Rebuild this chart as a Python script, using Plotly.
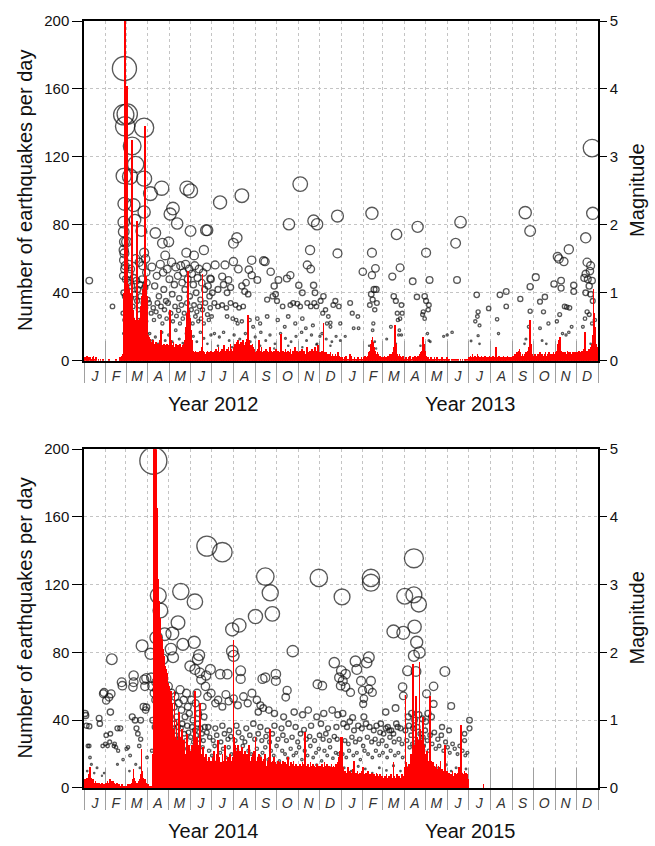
import datetime as dt
import plotly.graph_objects as go

# ---------------- daily earthquake counts (one value per day) ----------------
daily_2012 = [
    1,2,0,1,3,2,1,0,2,1,0,1,2,3,1,0,1,2,0,0,1,0,0,1,0,0,0,1,0,0,0,            # Jan
    0,0,0,0,1,0,0,0,0,0,0,0,0,0,1,0,0,0,0,1,2,1,3,2,4,40,45,230,55,            # Feb
    50,162,45,44,42,40,36,34,130,30,28,25,24,22,26,82,24,22,20,25,
    28,32,38,42,45,40,138,46,50,38,28,                                          # Mar
    15,14,12,13,10,11,9,12,10,8,9,11,7,8,10,9,8,12,18,9,7,8,10,6,9,8,7,10,9,8, # Apr
    9,30,12,10,8,9,11,7,8,10,6,9,8,7,9,10,8,6,7,9,8,10,12,15,20,28,53,35,30,25,22,  # May
    18,12,8,6,5,4,6,5,4,3,5,4,6,5,4,8,51,6,4,5,3,4,5,6,4,5,3,4,6,5,             # Jun
    4,5,3,6,4,7,5,3,6,8,4,5,6,3,7,5,4,9,6,5,4,7,6,8,5,6,10,7,5,6,8,             # Jul
    8,10,7,9,11,8,12,9,10,8,11,9,10,12,8,9,11,10,13,9,27,12,10,8,9,7,10,8,6,7,5,  # Aug
    5,6,4,7,12,5,6,4,8,5,3,6,5,4,7,5,6,4,3,5,8,4,6,5,3,4,6,5,4,7,               # Sep
    4,6,5,3,5,6,16,5,4,6,3,5,7,4,5,3,6,4,5,7,4,3,5,6,4,5,8,4,6,5,4,             # Oct
    5,4,6,3,5,7,4,6,5,3,4,6,8,5,4,3,6,5,4,7,5,4,6,8,5,4,6,9,7,5,                # Nov
    4,5,3,6,4,22,5,4,3,5,4,3,2,4,3,5,2,3,4,2,3,2,4,3,2,3,5,3,2,1,2,             # Dec
]
daily_2013 = [
    1,2,0,1,2,1,3,2,1,0,1,2,4,3,2,1,0,1,2,1,0,1,1,2,0,1,0,1,2,1,0,              # Jan
    2,1,3,2,1,2,3,4,5,6,8,10,12,14,11,8,6,5,4,3,5,4,3,2,3,2,1,2,                # Feb
    2,1,3,2,1,2,1,3,2,1,4,3,2,4,5,8,12,21,10,6,4,3,2,4,3,2,1,2,3,2,1,           # Mar
    1,2,1,0,1,2,1,3,2,1,0,2,1,2,3,2,1,2,1,3,2,4,3,5,6,8,14,10,6,4,              # Apr
    3,2,1,2,1,0,1,2,1,0,1,1,2,1,0,1,2,1,0,1,1,0,1,2,1,0,1,1,0,1,2,              # May
    1,0,1,0,0,1,0,1,0,0,1,0,0,1,0,1,0,0,1,0,0,1,0,0,1,0,1,0,0,1,                # Jun
    2,1,3,2,1,4,2,1,2,3,1,2,4,3,2,1,2,1,3,2,1,2,1,3,2,1,2,1,2,3,2,              # Jul
    1,2,1,3,2,1,2,8,2,1,2,1,3,2,1,2,1,2,3,1,2,1,2,1,3,2,1,2,1,2,1,              # Aug
    2,3,2,4,3,2,5,3,4,6,7,5,3,2,4,3,2,3,4,5,3,4,6,8,12,24,10,6,4,3,             # Sep
    3,2,4,3,2,3,4,2,3,5,3,2,4,3,2,3,4,5,3,2,4,3,5,4,3,2,4,3,5,4,3,              # Oct
    4,5,6,8,10,12,14,9,6,5,4,5,3,4,5,3,4,6,5,4,3,5,4,3,4,5,3,4,5,4,             # Nov
    4,5,3,6,4,5,3,4,6,5,4,7,17,6,5,4,6,5,7,4,6,8,10,15,42,28,20,12,10,8,6,      # Dec
]
daily_2014 = [
    3,5,4,2,6,4,5,8,12,6,4,3,5,4,2,3,4,2,3,1,2,3,2,1,2,3,1,2,1,2,3,             # Jan
    3,2,4,3,2,5,3,4,2,3,4,2,3,1,2,3,2,1,2,1,0,1,2,1,0,1,0,1,                    # Feb
    1,0,1,2,1,0,2,1,3,2,5,11,6,4,3,2,3,2,4,3,5,8,23,10,6,4,3,5,4,3,2,           # Mar
    2,1,1,0,1,0,1,20,240,250,235,220,210,165,140,123,110,100,95,90,
    88,85,82,78,75,72,70,68,65,62,                                              # Apr
    60,58,55,57,50,30,28,35,57,30,22,40,28,26,45,24,30,22,20,35,
    25,22,28,20,18,26,32,22,20,25,18,                                           # May
    22,18,25,20,30,35,57,28,22,30,25,20,24,50,22,18,20,15,24,12,
    18,14,20,16,12,15,18,14,12,16,                                              # Jun
    14,18,12,22,15,10,16,20,12,28,14,18,10,15,12,20,16,11,14,25,
    12,16,10,18,13,15,20,12,16,14,18,                                           # Jul
    87,30,25,22,20,18,25,15,20,22,18,16,24,20,15,18,22,14,16,20,
    18,15,25,12,16,14,18,20,15,22,16,                                           # Aug
    30,16,14,18,12,20,15,13,18,16,14,12,17,15,20,13,11,16,14,18,
    22,35,15,12,16,14,18,13,15,12,                                              # Sep
    14,12,16,10,13,15,11,14,12,16,10,13,15,12,11,14,18,12,10,13,
    15,11,14,12,16,13,10,12,14,11,13,                                           # Oct
    12,10,14,11,13,12,15,10,14,33,12,11,13,10,14,12,11,15,13,10,
    12,14,11,13,12,10,14,11,12,13,                                              # Nov
    12,10,13,11,14,12,10,15,13,11,12,14,10,13,11,12,10,14,12,11,
    13,10,12,14,11,13,15,12,18,22,30,                                           # Dec
]
daily_2015_jan_jun = [
    8,30,12,9,7,10,8,6,9,12,8,7,10,6,8,9,7,11,16,8,6,9,7,10,8,6,9,7,8,10,6,     # Jan
    12,7,8,6,9,5,8,10,7,6,8,5,7,9,6,8,5,7,6,9,8,5,7,6,8,5,6,7,                  # Feb
    5,6,4,7,5,8,6,4,5,7,6,5,8,6,4,15,7,5,6,4,8,5,6,7,5,4,6,8,5,7,6,             # Mar
    12,55,15,10,12,8,14,10,16,20,18,22,73,25,20,18,54,30,25,22,
    28,74,35,28,24,20,42,25,22,20,                                              # Apr
    20,18,22,16,15,18,54,14,16,12,15,11,13,10,12,14,9,11,13,10,
    12,16,9,11,8,10,9,25,12,8,10,                                               # May
    8,6,9,7,5,8,6,10,7,5,9,6,8,7,5,9,12,10,8,37,9,7,6,8,10,7,9,6,8,5,           # Jun
]
late_2015_doy = [202]       # day of year (0-based) of the single later record
late_2015_count = [2]

# ---------------- individual earthquakes: (day of year, magnitude) ----------------
quakes_2012 = [
    (7,1.18),(40,0.80),
    (57,4.30),(56,3.62),(61,3.63),(58,3.45),(68,3.16),(73,2.89),(56,2.72),(65,2.71),(85,3.43),
    (85,2.68),(94,2.46),(57,2.31),(70,2.29),(85,2.19),(56,2.04),(56,1.90),(72,2.07),(81,1.91),
    (57,1.58),(85,1.59),(73,1.50),(87,1.50),(60,1.75),(57,1.75),(56,1.63),(56,1.48),(57,1.35),
    (58,1.40),(63,1.42),(66,1.35),(78,1.45),(83,1.40),(88,1.30),(55,1.25),(59,1.20),(62,1.15),
    (64,1.28),(67,1.10),(70,1.22),(74,1.18),(76,1.05),(79,1.12),(82,1.20),(86,1.08),(89,1.15),
    (56,1.00),(58,0.95),(61,0.90),(63,0.85),(66,0.92),(69,0.80),(71,0.98),(75,0.88),(77,0.75),
    (80,0.95),(84,0.85),(87,0.78),(90,0.90),(55,0.70),(57,0.60),(59,0.55),(62,0.65),(64,0.50),
    (68,0.62),(72,0.55),(75,0.48),(78,0.60),(81,0.52),(84,0.65),(88,0.58),(56,0.40),(60,0.35),
    (65,0.42),(70,0.38),(74,0.32),(79,0.45),(83,0.35),(89,0.40),(58,0.25),(63,0.22),(67,0.28),
    (72,0.20),(77,0.25),(82,0.22),(86,0.28),
    (110,2.54),(101,1.88),(111,1.73),(120,1.75),(126,2.24),(122,2.16),(132,2.02),(146,2.54),
    (151,2.50),(151,1.91),(145,1.59),(173,1.92),(170,1.63),(115,1.55),(156,1.55),
    (96,1.38),(100,1.10),(103,1.25),(106,0.95),(108,1.42),(112,1.30),(113,1.05),(116,0.88),
    (118,1.35),(121,1.20),(124,1.45),(125,0.98),(128,1.12),(130,1.38),(133,1.25),(135,0.92),
    (137,1.40),(139,1.15),(141,1.30),(143,1.05),(144,1.42),(147,1.20),(149,1.35),(150,0.95),
    (153,1.28),(155,1.12),(157,1.40),(159,1.00),(161,1.22),(163,1.35),(165,0.90),(167,1.15),
    (169,1.30),(171,1.05),(174,1.38),(176,1.10),(178,0.95),(180,1.20),
    (92,0.85),(95,0.70),(98,0.78),(99,0.60),(102,0.72),(104,0.85),(107,0.65),(109,0.80),
    (111,0.55),(114,0.75),(117,0.62),(119,0.85),(123,0.70),(126,0.58),(129,0.80),(131,0.66),
    (134,0.74),(136,0.55),(138,0.82),(140,0.62),(142,0.70),(146,0.85),(148,0.60),(152,0.75),
    (154,0.55),(156,0.82),(158,0.65),(160,0.72),(162,0.58),(164,0.80),(166,0.62),(168,0.75),
    (170,0.55),(172,0.85),(175,0.68),(177,0.60),(179,0.78),(181,0.65),
    (93,0.40),(97,0.30),(101,0.35),(105,0.25),(110,0.42),(115,0.30),(120,0.38),(125,0.28),
    (130,0.45),(135,0.32),(140,0.26),(145,0.40),(150,0.30),(155,0.36),(160,0.28),(165,0.42),
    (170,0.33),(175,0.25),(180,0.38),
    (193,2.33),(224,2.43),(307,2.60),(291,2.01),(326,2.06),(331,2.01),(360,2.13),(175,1.92),
    (217,1.81),(212,1.73),(321,1.63),(317,1.41),(322,1.35),(360,1.58),(186,1.41),(200,1.41),
    (212,1.46),(238,1.48),(255,1.47),(257,1.46),(219,1.35),(234,1.34),(265,1.31),(179,1.21),
    (196,1.24),(205,1.19),(238,1.26),(246,1.19),(276,1.19),(288,1.21),(293,1.26),(305,1.11),
    (326,1.11),(328,1.00),(310,1.00),
    (224,1.10),(228,1.02),(230,1.15),(233,0.98),(190,1.05),(198,1.12),(203,1.00),(208,1.08),
    (182,1.00),(270,1.10),(272,0.98),(260,0.90),(268,0.95),(274,0.88),(185,0.85),(190,0.80),
    (196,0.82),(202,0.78),(208,0.85),(215,0.82),(220,0.78),(226,0.80),(282,0.80),(293,0.82),
    (297,0.85),(303,0.84),(307,0.80),(317,0.85),(322,0.80),(327,0.85),(330,0.80),(336,0.88),
    (340,0.95),
    (203,0.65),(211,0.62),(216,0.60),(218,0.55),(224,0.58),(235,0.60),(246,0.62),(260,0.65),
    (275,0.60),(290,0.65),(310,0.62),(240,0.50),(250,0.55),(285,0.50),(300,0.55),(315,0.48),
    (325,0.52),(345,0.55),(350,0.50),
    (185,0.40),(192,0.35),(198,0.42),(206,0.30),(213,0.38),(221,0.32),(229,0.40),(236,0.28),
    (243,0.35),(251,0.42),(258,0.30),(264,0.38),(271,0.25),(279,0.40),(286,0.33),(294,0.28),
    (301,0.36),(309,0.42),(316,0.30),(323,0.38),(331,0.25),(338,0.40),(344,0.32),(352,0.28),
    (358,0.36),(364,0.30),(190,0.22),(210,0.20),(230,0.25),(250,0.22),(270,0.18),(290,0.22),
    (310,0.20),(330,0.24),(350,0.22),
    (354,0.82),(357,0.88),(362,0.80),(364,0.55),(339,0.70),(343,0.75),(347,0.65),(350,0.56),
    (335,0.36),
]
quakes_2013 = [
    (12,0.85),(15,0.70),(17,0.48),(23,0.65),(24,0.48),(5,0.36),
    (43,2.17),(43,1.59),(48,1.36),(43,1.26),(30,1.31),(46,1.05),(49,1.05),(42,0.98),(44,0.90),
    (40,0.82),(47,0.75),(50,0.85),(45,0.55),(44,0.45),(47,0.28),(39,0.22),(49,0.18),
    (78,1.86),(83,1.37),(72,1.24),(74,0.95),(77,0.88),(79,0.70),(83,0.62),(85,0.82),(86,0.70),
    (80,0.60),(82,0.45),(85,0.38),(77,0.25),(64,0.32),(70,0.50),(81,0.38),
    (108,1.97),(120,1.59),(101,1.17),(125,1.19),(107,0.94),(118,0.95),(120,0.88),(124,0.82),
    (123,0.75),(116,0.72),(118,0.62),(115,0.68),(122,0.40),(124,0.30),(112,0.22),(126,0.28),
    (162,1.73),(169,2.04),(164,1.19),(145,0.36),(150,0.38),(157,0.42),
    (192,0.97),(190,0.58),(194,0.72),(196,0.52),(193,0.65),(194,0.37),(196,0.25),(184,0.29),
    (209,0.77),(225,0.97),(234,1.02),(234,0.80),(221,0.61),(223,0.40),
    (254,0.91),(261,2.18),(268,1.91),(268,1.09),(276,1.23),(268,0.73),(266,0.50),(262,0.32),
    (260,0.25),
    (282,0.87),(289,0.94),(287,0.72),(294,0.55),(282,0.48),(285,0.30),(291,0.25),
    (302,1.13),(307,1.53),(309,1.50),(316,1.46),(323,1.64),(312,1.18),(312,1.07),(330,1.11),
    (330,1.02),(317,0.80),(320,0.79),(324,0.78),(310,0.68),(306,0.58),(314,0.40),(319,0.38),
    (323,0.42),(327,0.50),
    (347,1.81),(356,3.13),(357,2.17),(349,1.45),(354,1.40),(353,1.32),(347,1.28),(350,1.20),
    (356,1.18),(345,1.22),(352,1.10),(347,1.00),(354,0.98),(357,0.88),(349,0.72),(352,0.68),
    (356,0.55),(360,0.60),(346,0.62),(359,0.35),(354,0.25),(343,0.50),
]
quakes_2014 = [
    (1,1.10),(3,0.92),(5,0.62),(8,0.45),(10,0.35),(4,0.25),(14,0.22),(18,0.30),(22,0.95),
    (27,1.39),(31,1.29),(35,1.34),(37,0.80),(39,1.90),(37,1.12),(33,0.62),(36,0.68),(30,0.65),
    (28,0.22),(25,0.18),(42,0.62),(45,0.60),(48,0.55),(51,0.88),(53,1.56),(55,0.42),(60,0.58),
    (62,0.60),(65,0.48),(70,1.66),(70,1.56),(68,1.05),(72,1.00),(74,0.88),(76,0.80),(78,0.62),
    (80,0.72),(82,2.10),(85,1.60),(86,1.50),(88,1.62),(84,1.20),(87,1.15),(89,0.45),(64,0.25),
    (73,0.35),(79,0.30),(47,0.35),(54,1.51),(69,1.49),(28,1.41),(38,1.39),(88,1.19),(80,1.00),
    (21,1.03),(2,1.07),(7,0.91),(31,0.78),(47,0.88),(7,0.62),(26,0.62),(43,0.65),
    (98,4.83),
    (174,3.57),(196,3.48),(257,3.12),(264,2.88),(267,2.57),(243,2.53),(220,2.40),(210,2.34),
    (137,2.90),(157,2.75),(105,2.84),(108,2.62),(133,2.44),(125,2.28),(333,3.10),(296,2.02),
    (140,2.12),(156,2.15),(161,1.90),(163,1.96),(123,2.05),(126,1.93),(102,2.22),(114,2.27),
    (94,1.98),(111,1.90),(210,2.02),(212,1.95),
    (150,1.80),(157,1.75),(164,1.70),(173,1.66),(95,1.63),(102,1.56),
    (179,1.75),(193,1.68),(203,1.68),(222,1.73),(222,1.61),(253,1.61),(257,1.63),(272,1.68),
    (272,1.58),(288,1.44),(286,1.34),(331,1.53),(338,1.51),(355,1.85),(362,1.63),(364,1.51),
    (175,1.35),(180,1.40),(186,1.25),(190,1.30),(196,1.20),(201,1.38),(205,1.28),(212,1.32),
    (218,1.22),(226,1.35),(232,1.25),(238,1.40),(245,1.30),(250,1.22),
    (247,1.12),(254,1.18),(262,1.15),(270,1.10),(283,1.05),(298,1.12),(310,1.08),(318,1.15),
    (330,1.05),(340,1.10),(352,1.15),(360,1.08),
    (176,0.90),(186,0.88),(196,0.92),(206,0.85),(216,0.92),(230,0.88),(240,0.95),(250,0.90),
    (260,0.85),(270,0.92),(280,0.88),(290,0.95),(300,0.90),(312,0.86),(322,0.92),(336,0.95),
    (346,0.88),(358,0.90),
    (96,1.50),(99,1.40),(101,1.30),(103,1.45),(104,1.20),(106,1.35),(109,1.55),(112,1.25),
    (113,1.42),(116,1.10),(118,1.30),(119,1.50),(121,1.15),(124,1.40),(127,1.20),(129,1.35),
    (131,1.05),(134,1.25),(136,1.45),(138,1.15),(141,1.30),(143,1.05),(145,1.40),(147,1.20),
    (149,1.10),(152,1.30),(154,1.00),(158,1.25),(160,1.40),(162,1.10),(166,1.60),(168,1.20),
    (170,1.05),(172,1.50),
    (97,1.00),(100,0.90),(102,0.80),(105,0.95),(107,0.85),(110,1.00),(112,0.75),(115,0.90),
    (117,0.80),(120,0.95),(122,0.70),(125,0.85),(128,0.95),(130,0.78),(133,0.90),(135,0.72),
    (137,0.88),(139,0.95),(142,0.80),(144,0.70),(146,0.92),(148,0.82),(151,0.75),(153,0.90),
    (155,0.68),(157,0.85),(159,0.78),(161,0.95),(163,0.72),(165,0.88),(167,0.80),(169,0.70),
    (171,0.90),(174,0.82),
    (178,0.75),(183,0.70),(188,0.78),(194,0.68),(199,0.80),(204,0.72),(208,0.76),(214,0.70),
    (219,0.82),(224,0.74),(228,0.68),(235,0.78),(242,0.72),(247,0.80),(252,0.70),(258,0.76),
    (263,0.68),(267,0.80),(275,0.72),(282,0.78),(287,0.70),(295,0.75),(303,0.68),(307,0.80),
    (315,0.72),(320,0.76),(327,0.70),(334,0.78),(339,0.72),(343,0.80),(348,0.70),(355,0.76),
    (359,0.72),
    (96,0.55),(99,0.45),(103,0.60),(106,0.40),(108,0.50),(111,0.62),(114,0.45),(117,0.55),
    (121,0.38),(123,0.58),(126,0.48),(129,0.60),(132,0.42),(136,0.55),(140,0.50),(143,0.40),
    (146,0.58),(150,0.45),(153,0.52),(156,0.38),(160,0.55),(164,0.47),(168,0.60),(172,0.42),
    (177,0.55),(181,0.48),(185,0.62),(189,0.40),(193,0.52),(197,0.58),(201,0.45),(205,0.60),
    (209,0.50),(213,0.42),(217,0.56),(221,0.48),(225,0.62),(229,0.44),(233,0.55),(237,0.50),
    (241,0.40),(245,0.58),(249,0.46),(253,0.52),(257,0.60),(261,0.42),(265,0.55),(269,0.48),
    (273,0.62),(277,0.40),(281,0.55),(285,0.50),(289,0.44),(293,0.58),(297,0.48),(301,0.52),
    (305,0.60),(309,0.42),(313,0.55),(317,0.48),(321,0.62),(325,0.45),(329,0.52),(333,0.58),
    (337,0.40),(341,0.55),(345,0.48),(349,0.60),(353,0.44),(357,0.52),(361,0.50),
    (100,0.30),(110,0.25),(120,0.32),(130,0.22),(140,0.28),(150,0.35),(160,0.20),(170,0.30),
    (180,0.25),(190,0.32),(200,0.28),(210,0.22),(220,0.30),(230,0.35),(240,0.25),(250,0.30),
    (260,0.22),(270,0.28),(280,0.33),(290,0.25),(300,0.30),(310,0.22),(320,0.28),(330,0.34),
    (340,0.25),(350,0.30),(360,0.22),
]
quakes_2015 = [
    (103,3.39),(42,3.10),(42,3.03),(1,2.82),(90,2.83),(103,2.85),(110,2.71),(74,2.31),(88,2.29),
    (104,2.38),(107,2.15),(111,2.00),(103,1.95),(20,1.87),(22,1.75),(39,1.93),(36,1.85),
    (0,1.73),(6,1.68),(6,1.49),(13,1.41),(2,1.58),(28,1.58),(30,1.44),(32,1.32),(31,1.24),
    (42,1.58),(44,1.41),(39,1.46),(94,1.73),(106,1.72),(87,1.49),(88,1.36),(121,1.39),
    (131,1.50),(131,1.24),(147,1.72),(156,1.21),(77,1.18),(63,1.12),(32,1.05),(16,1.04),(2,1.10),
    (95,1.05),(100,1.10),(104,1.00),(110,1.08),(115,1.02),(120,0.98),(123,1.10),(128,1.05),
    (182,1.00),(182,0.88),(175,0.80),(175,0.70),(68,0.85),(74,0.80),(80,0.90),(63,0.88),(55,0.82),
    (143,0.90),(153,0.85),
    (3,0.95),(8,0.90),(12,0.98),(18,0.85),(24,0.92),(29,0.88),(35,0.95),(40,0.90),(46,0.85),
    (50,0.92),(56,0.95),(60,0.80),(66,0.90),(71,0.85),(78,0.95),(84,0.88),
    (5,0.70),(10,0.65),(15,0.75),(20,0.68),(26,0.72),(31,0.62),(37,0.75),(43,0.68),(48,0.72),
    (53,0.65),(58,0.70),(64,0.62),(69,0.75),(75,0.68),(82,0.72),(86,0.65),
    (2,0.50),(7,0.45),(11,0.55),(17,0.48),(22,0.52),(27,0.42),(33,0.55),(38,0.50),(44,0.45),
    (49,0.55),(54,0.48),(59,0.52),(65,0.45),(70,0.55),(76,0.48),(81,0.52),(87,0.45),
    (4,0.30),(14,0.25),(24,0.32),(34,0.28),(44,0.22),(54,0.30),(64,0.26),(74,0.33),(84,0.25),
    (91,0.85),(93,0.70),(96,0.92),(97,0.60),(99,0.78),(101,0.65),(102,0.88),(105,0.72),
    (106,0.55),(108,0.90),(109,0.68),(112,0.80),(113,0.58),(116,0.75),(117,0.62),(119,0.85),
    (122,0.70),(124,0.55),(126,0.78),(129,0.65),(132,0.82),(134,0.58),(137,0.72),(139,0.62),
    (142,0.78),(145,0.55),(148,0.68),(151,0.60),(154,0.52),(158,0.65),(161,0.58),(165,0.50),
    (168,0.62),(172,0.55),(176,0.48),(179,0.52),
    (94,0.30),(100,0.25),(107,0.35),(114,0.28),(121,0.32),(128,0.22),(135,0.30),(141,0.26),
    (149,0.34),(156,0.25),(163,0.30),(170,0.22),(177,0.28),
]

month_letters = ["J", "F", "M", "A", "M", "J", "J", "A", "S", "O", "N", "D"]
panel_years = [(2012, 2013), (2014, 2015)]

# ---------------- layout geometry ----------------
W, H = 655, 846
ML, MR, MT, MB = 84, 57, 16, 58
PH = H - MT - MB


def yfrac(px):
    return (H - MB - px) / PH


domains = [[yfrac(358), 1.0], [0.0, yfrac(447)]]
FONT = "Liberation Sans, Arial, Helvetica, sans-serif"
GRID = "#c4c4c4"
TICKGRAY = "#a0a0a0"


def year_offsets(y0, y1):
    start = dt.date(y0, 1, 1)
    return {y0: 0, y1: (dt.date(y1, 1, 1) - start).days}, start


fig = go.Figure()
annotations = []
layout = dict(
    width=W, height=H, margin=dict(l=ML, r=MR, t=MT, b=MB),
    paper_bgcolor="white", plot_bgcolor="white", showlegend=False,
    font=dict(family=FONT, color="#111", size=15), hovermode=False,
)

daily = {2012: daily_2012, 2013: daily_2013, 2014: daily_2014, 2015: daily_2015_jan_jun}
quakes = {2012: quakes_2012, 2013: quakes_2013, 2014: quakes_2014, 2015: quakes_2015}

for p, (y0, y1) in enumerate(panel_years):
    offs, start = year_offsets(y0, y1)
    ndays = (dt.date(y1 + 1, 1, 1) - start).days
    bounds = []
    mids = []
    for yy in (y0, y1):
        for m in range(1, 13):
            a = (dt.date(yy, m, 1) - start).days
            b = (dt.date(yy + (m == 12), m % 12 + 1, 1) - start).days
            bounds.append(a)
            mids.append((a + b) / 2)
    bounds.append(ndays)

    xm = "x" if p == 0 else f"x{3*p+1}"
    xi, xl = f"x{3*p+2}", f"x{3*p+3}"
    ym = "y" if p == 0 else f"y{2*p+1}"
    yc = f"y{2*p+2}"
    kx = lambda n: "xaxis" if n == "x" else "xaxis" + n[1:]
    ky = lambda n: "yaxis" if n == "y" else "yaxis" + n[1:]

    # circles (magnitude, main axis)
    qx, qm = [], []
    for yy in (y0, y1):
        for d, mag in quakes[yy]:
            qx.append(offs[yy] + d + 0.5)
            qm.append(mag)
    fig.add_trace(go.Scatter(
        x=qx, y=qm, mode="markers", xaxis=xm, yaxis=ym,
        marker=dict(symbol="circle-open", size=[5.6 * m for m in qm],
                    color="#111111", line=dict(width=1.35)),
        cliponaxis=True,
    ))

    # daily counts (bars on overlaid count axis, drawn above circles)
    bx, by = [], []
    for yy in (y0, y1):
        for i, c in enumerate(daily[yy]):
            bx.append(offs[yy] + i + 0.5)
            by.append(c)
    if y1 == 2015:
        for d, c in zip(late_2015_doy, late_2015_count):
            bx.append(offs[2015] + d + 0.5)
            by.append(c)
    fig.add_trace(go.Bar(
        x=bx, y=by, width=1.0, xaxis=xm, yaxis=yc,
        marker=dict(color="#ff0000", line=dict(width=0)),
    ))
    # empty traces so the tick/label overlay axes exist
    for ax in (xi, xl):
        fig.add_trace(go.Scatter(x=[], y=[], xaxis=ax, yaxis=ym, mode="markers"))

    rng = [0, ndays]
    layout[kx(xm)] = dict(
        domain=[0, 1], anchor=ym, range=rng, tickmode="array", tickvals=bounds,
        ticks="outside", ticklen=20, tickcolor=TICKGRAY, tickwidth=1,
        showticklabels=False, showgrid=True, gridcolor=GRID, griddash="dot", gridwidth=1,
        showline=True, linecolor="black", linewidth=1.5, mirror=True, zeroline=False,
    )
    layout[kx(xi)] = dict(
        overlaying=xm, anchor=ym, range=rng, tickmode="array", tickvals=bounds,
        ticks="inside", ticklen=20, tickcolor=TICKGRAY, tickwidth=1,
        showticklabels=False, showgrid=False, showline=False, zeroline=False,
        layer="below traces",
    )
    layout[kx(xl)] = dict(
        overlaying=xm, anchor=ym, range=rng, tickmode="array", tickvals=mids,
        ticktext=[f"<i>{t}</i>" for t in month_letters * 2], ticks="",
        showgrid=False, showline=False, zeroline=False, ticklabelstandoff=5,
        tickfont=dict(size=14, color="#333"), tickangle=0,
    )
    layout[ky(ym)] = dict(
        domain=domains[p], anchor=xm, side="right", range=[0, 5],
        tickmode="array", tickvals=[0, 1, 2, 3, 4, 5], ticks="outside", ticklen=7,
        tickcolor="black", showgrid=True, gridcolor=GRID, griddash="dot",
        showline=True, linecolor="black", linewidth=1.5, zeroline=False,
        tickfont=dict(size=15),
    )
    layout[ky(yc)] = dict(
        overlaying=ym, anchor=xm, side="left", range=[0, 200],
        tickmode="array", tickvals=[0, 40, 80, 120, 160, 200], ticks="outside",
        ticklen=10, tickcolor="black", showgrid=False, showline=True,
        linecolor="black", linewidth=1.5, zeroline=False, tickfont=dict(size=15),
    )

    ymid = (domains[p][0] + domains[p][1]) / 2
    annotations.append(dict(text="Number of earthquakes per day", xref="paper", yref="paper",
                            x=(25 - ML) / (W - ML - MR), y=ymid, textangle=-90,
                            showarrow=False, font=dict(size=20), xanchor="center", yanchor="middle"))
    annotations.append(dict(text="Magnitude", xref="paper", yref="paper",
                            x=(637 - ML) / (W - ML - MR), y=ymid, textangle=-90,
                            showarrow=False, font=dict(size=20), xanchor="center", yanchor="middle"))
    label_px = 401 if p == 0 else 831
    for yy in (y0, y1):
        n = 366 if yy % 4 == 0 else 365
        annotations.append(dict(text=f"Year {yy}", xref=xm, yref="paper",
                                x=offs[yy] + n / 2, y=yfrac(label_px), showarrow=False,
                                font=dict(size=20), xanchor="center", yanchor="middle"))

layout["annotations"] = annotations
layout["bargap"] = 0
fig.update_layout(**layout)
fig.write_html("out.html")
